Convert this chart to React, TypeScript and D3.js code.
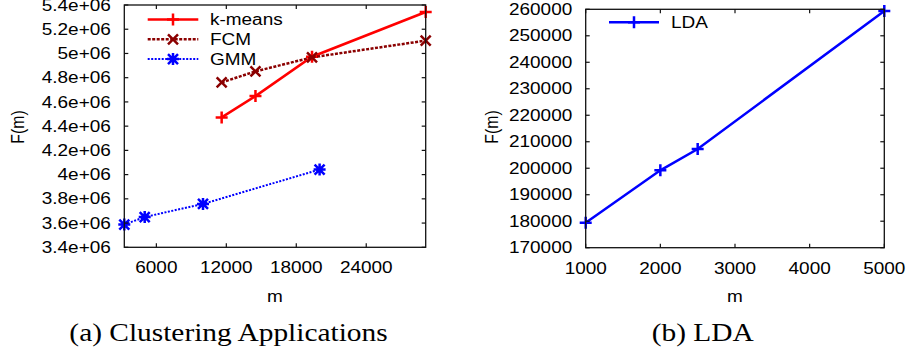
import * as d3 from "d3";

// Clustering panel (a)
const kmM = [11600, 14500, 19350, 29100];
const kmF = [4.472e6, 4.648e6, 4.973e6, 5.342e6];
const fcmM = [11600, 14500, 19350, 29100];
const fcmF = [4.761e6, 4.852e6, 4.968e6, 5.106e6];
const gmmM = [3250, 5000, 10000, 20000];
const gmmF = [3.588e6, 3.65e6, 3.758e6, 4.042e6];
const aXTicks = [6000, 12000, 18000, 24000];
const aYTicks = [3.4e6, 3.6e6, 3.8e6, 4e6, 4.2e6, 4.4e6, 4.6e6, 4.8e6, 5e6, 5.2e6, 5.4e6];
const aYLabels = ["3.4e+06", "3.6e+06", "3.8e+06", "4e+06", "4.2e+06", "4.4e+06", "4.6e+06", "4.8e+06", "5e+06", "5.2e+06", "5.4e+06"];

// LDA panel (b)
const ldaM = [1000, 2000, 2500, 5000];
const ldaF = [179400, 199200, 207250, 259400];
const bXTicks = [1000, 2000, 3000, 4000, 5000];
const bYTicks = [170000, 180000, 190000, 200000, 210000, 220000, 230000, 240000, 250000, 260000];

const SANS = "'Liberation Sans', Arial, sans-serif";
const SERIF = "'Liberation Serif', 'Times New Roman', serif";
const FS = 15.8;
const SX = 1.2; // the figure is stretched horizontally

type Pt = [number, number];

function Txt({ x, y, anchor = "start", size = FS, serif = false, rot = false, children }:
  { x: number; y: number; anchor?: string; size?: number; serif?: boolean; rot?: boolean; children: any }) {
  const tf = rot ? `translate(${x},${y}) rotate(-90) scale(1,${SX})` : `translate(${x},${y}) scale(${SX},1)`;
  return (
    <text transform={tf} textAnchor={anchor} fontFamily={serif ? SERIF : SANS} fontSize={size} fill="#000">
      {children}
    </text>
  );
}

function Marker({ kind, x, y, color }: { kind: string; x: number; y: number; color: string }) {
  const s = 6, d = 5;
  const plus = `M${x - s},${y}H${x + s}M${x},${y - s}V${y + s}`;
  const cross = `M${x - d},${y - d}L${x + d},${y + d}M${x - d},${y + d}L${x + d},${y - d}`;
  const p = kind === "plus" ? plus : kind === "cross" ? cross : plus + cross;
  return <path d={p} stroke={color} strokeWidth={2.5} fill="none" />;
}

interface Series { name: string; xs: number[]; ys: number[]; color: string; width: number; dash?: string; marker: string }

function Panel({ box, xDom, yDom, xTicks, yTicks, yLabels, series, legend, labelX, caption, capX }: any) {
  const x = d3.scaleLinear().domain(xDom).range([box.l, box.r]);
  const y = d3.scaleLinear().domain(yDom).range([box.b, box.t]);
  const line = d3.line<Pt>().x(d => x(d[0])).y(d => y(d[1]));
  const tk = 4;
  const cx = (box.l + box.r) / 2;
  return (
    <g>
      {series.map((s: Series) => {
        const pts: Pt[] = s.xs.map((v, i) => [v, s.ys[i]]);
        return (
          <g key={s.name}>
            <path d={line(pts) || ""} fill="none" stroke={s.color} strokeWidth={s.width} strokeDasharray={s.dash} />
            {pts.map((p, i) => <Marker key={i} kind={s.marker} x={x(p[0])} y={y(p[1])} color={s.color} />)}
          </g>
        );
      })}
      <rect x={box.l} y={box.t} width={box.r - box.l} height={box.b - box.t} fill="none" stroke="#111" strokeWidth={1.3} />
      {xTicks.map((v: number) => (
        <g key={"x" + v}>
          <line x1={x(v)} x2={x(v)} y1={box.b} y2={box.b - tk} stroke="#111" strokeWidth={1.2} />
          <line x1={x(v)} x2={x(v)} y1={box.t} y2={box.t + tk} stroke="#111" strokeWidth={1.2} />
          <Txt x={x(v)} y={box.b + 26} anchor="middle">{String(v)}</Txt>
        </g>
      ))}
      {yTicks.map((v: number, i: number) => (
        <g key={"y" + v}>
          <line x1={box.l} x2={box.l + tk} y1={y(v)} y2={y(v)} stroke="#111" strokeWidth={1.2} />
          <line x1={box.r} x2={box.r - tk} y1={y(v)} y2={y(v)} stroke="#111" strokeWidth={1.2} />
          <Txt x={box.l - 13.5} y={y(v) + 5.6} anchor="end">{yLabels ? yLabels[i] : String(v)}</Txt>
        </g>
      ))}
      <Txt x={labelX} y={127} anchor="middle" rot>F(m)</Txt>
      <Txt x={cx} y={301.5} anchor="middle">m</Txt>
      <Txt x={capX} y={341} anchor="middle" size={24.5} serif>{caption}</Txt>
      {series.map((s: Series, i: number) => {
        const ly = legend.y + i * 19.8;
        return (
          <g key={"lg" + s.name}>
            <line x1={legend.x1} x2={legend.x2} y1={ly} y2={ly} stroke={s.color} strokeWidth={s.width} strokeDasharray={s.dash} />
            <Marker kind={s.marker} x={(legend.x1 + legend.x2) / 2} y={ly} color={s.color} />
            <Txt x={legend.tx} y={ly + 5.6}>{s.name}</Txt>
          </g>
        );
      })}
    </g>
  );
}

export default function App() {
  const aSeries: Series[] = [
    { name: "k-means", xs: kmM, ys: kmF, color: "#ff0000", width: 2.5, marker: "plus" },
    { name: "FCM", xs: fcmM, ys: fcmF, color: "#8b0000", width: 2.5, dash: "3,1.5", marker: "cross" },
    { name: "GMM", xs: gmmM, ys: gmmF, color: "#0000ff", width: 2, dash: "2,1.5", marker: "star" },
  ];
  const bSeries: Series[] = [
    { name: "LDA", xs: ldaM, ys: ldaF, color: "#0000ff", width: 2.5, marker: "plus" },
  ];
  return (
    <div style={{ position: "absolute", left: 0, top: 0 }}>
      <svg width={913} height={358} style={{ display: "block", background: "#fff" }}>
        <Panel box={{ l: 124.3, r: 425.7, t: 5, b: 247.3 }} xDom={[3250, 29100]} yDom={[3.4e6, 5.4e6]}
          xTicks={aXTicks} yTicks={aYTicks} yLabels={aYLabels} series={aSeries}
          legend={{ x1: 147.7, x2: 198.3, tx: 210, y: 19.5 }} labelX={24}
          caption="(a) Clustering Applications" capX={228.5} />
        <Panel box={{ l: 585.7, r: 884.3, t: 9.3, b: 247.7 }} xDom={[1000, 5000]} yDom={[170000, 260000]}
          xTicks={bXTicks} yTicks={bYTicks} series={bSeries}
          legend={{ x1: 609, x2: 659, tx: 671, y: 22.3 }} labelX={498}
          caption="(b) LDA" capX={702.7} />
      </svg>
    </div>
  );
}
